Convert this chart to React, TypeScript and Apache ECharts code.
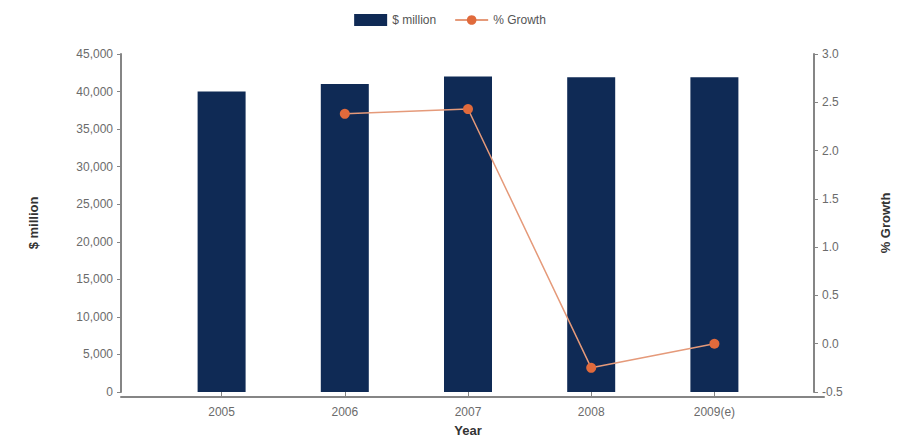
import React, { useEffect, useRef } from "react";
import * as echarts from "echarts";

const years = ["2005", "2006", "2007", "2008", "2009(e)"];
const millions = [40000, 41000, 42000, 41900, 41900];
const growth: (number | null)[] = [null, 2.38, 2.43, -0.25, 0.0];

const font = "Liberation Sans, Arial, sans-serif";
const labelColor = "#6b6b6b";
const axisColor = "#858585";

export default function App() {
  const ref = useRef<HTMLDivElement>(null);
  useEffect(() => {
    document.body.style.margin = "0";
    if (!ref.current) return;
    const chart = echarts.init(ref.current, undefined, { renderer: "svg" });
    chart.setOption({
      animation: false,
      backgroundColor: "#ffffff",
      textStyle: { fontFamily: font },
      legend: {
        top: 9,
        left: "center",
        itemGap: 18,
        itemWidth: 33,
        itemHeight: 12,
        textStyle: { fontFamily: font, fontSize: 12, color: "#555" },
        data: [
          { name: "$ million", icon: "rect" },
          { name: "% Growth" },
        ],
      },
      grid: [
        { left: 160, right: 114, top: 54, bottom: 45 },
        { left: 121, right: 76, top: 54, bottom: 45 },
      ],
      xAxis: [
        {
          type: "category",
          gridIndex: 0,
          data: years,
          axisLine: { show: false },
          axisTick: { show: true, alignWithLabel: true, length: 4, lineStyle: { color: axisColor } },
          axisLabel: { color: labelColor, fontSize: 12, fontFamily: font, margin: 14 },
          name: "Year",
          nameLocation: "middle",
          nameGap: 32,
          nameTextStyle: { fontWeight: "bold", fontSize: 13, color: "#333", fontFamily: font },
        },
        {
          type: "value",
          gridIndex: 1,
          min: 0,
          max: 1,
          axisLine: { show: true, lineStyle: { color: axisColor, width: 2 } },
          axisTick: { show: false },
          axisLabel: { show: false },
          splitLine: { show: false },
        },
      ],
      yAxis: [
        {
          type: "value",
          gridIndex: 0,
          min: 0,
          max: 45000,
          interval: 5000,
          offset: 39,
          axisLine: { show: true, lineStyle: { color: axisColor, width: 2 } },
          axisTick: { show: true, inside: false, length: 4, lineStyle: { color: axisColor } },
          axisLabel: {
            color: labelColor,
            fontSize: 12,
            fontFamily: font,
            margin: 8,
            formatter: (v: number) => v.toLocaleString("en-US"),
          },
          splitLine: { show: false },
          name: "$ million",
          nameLocation: "middle",
          nameGap: 81,
          nameRotate: 90,
          nameTextStyle: { fontWeight: "bold", fontSize: 13, color: "#333", fontFamily: font },
        },
        {
          type: "value",
          gridIndex: 0,
          position: "right",
          min: -0.5,
          max: 3.0,
          interval: 0.5,
          offset: 38,
          axisLine: { show: true, lineStyle: { color: axisColor, width: 2 } },
          axisTick: { show: true, length: 4, lineStyle: { color: axisColor } },
          axisLabel: {
            color: labelColor,
            fontSize: 12,
            fontFamily: font,
            margin: 8,
            formatter: (v: number) => v.toFixed(1),
          },
          splitLine: { show: false },
          name: "% Growth",
          nameLocation: "middle",
          nameGap: 65,
          nameRotate: 90,
          nameTextStyle: { fontWeight: "bold", fontSize: 13, color: "#333", fontFamily: font },
        },
        {
          type: "value",
          gridIndex: 1,
          min: 0,
          max: 1,
          show: false,
        },
      ],
      series: [
        {
          name: "$ million",
          type: "bar",
          xAxisIndex: 0,
          yAxisIndex: 0,
          data: millions,
          barWidth: 48,
          itemStyle: { color: "#0f2a55" },
        },
        {
          name: "% Growth",
          type: "line",
          xAxisIndex: 0,
          yAxisIndex: 1,
          data: growth,
          symbol: "circle",
          symbolSize: 10,
          connectNulls: false,
          lineStyle: { color: "#e59a7a", width: 1.5 },
          itemStyle: { color: "#e06a3c" },
          z: 5,
        },
      ],
    });
    return () => chart.dispose();
  }, []);
  return <div ref={ref} style={{ width: 900, height: 442 }} />;
}
